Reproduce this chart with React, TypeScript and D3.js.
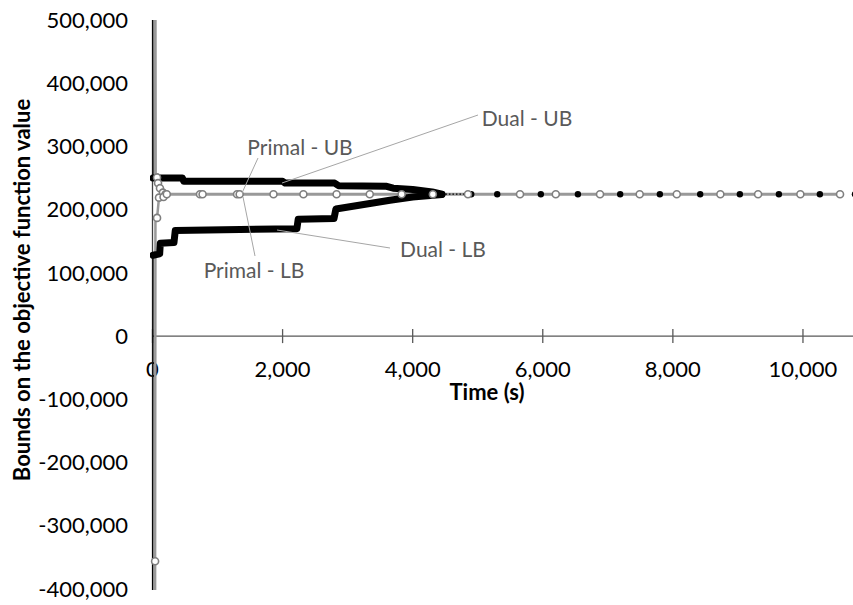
import React from 'react';
import * as d3 from 'd3';

const W = 853;
const H = 605;

const xTicks = [0, 2000, 4000, 6000, 8000, 10000];
const yTicks = [-400000, -300000, -200000, -100000, 0, 100000, 200000, 300000, 400000, 500000];

// Dual - UB (black, dense markers)
const dualUB_t = [0, 8, 460, 480, 2000, 2040, 2800, 2860, 3600, 3700, 4000, 4300, 4450];
const dualUB_v = [700000, 250000, 250000, 245000, 245000, 242000, 242000, 238000, 237000, 234000, 232000, 228000, 224500];
// Dual - LB (black, dense markers)
const dualLB_t = [0, 8, 110, 120, 330, 350, 2220, 2240, 2790, 2820, 3650, 4000, 4450];
const dualLB_v = [-700000, 128000, 130000, 147000, 148000, 167000, 170000, 185000, 186000, 201000, 215000, 220000, 224000];
// Dual converged points after 4,500 s (sparse black dots)
const dualTail_t = [4900, 5300, 5970, 6540, 7190, 7800, 8420, 9030, 9630, 10260, 10800];
const dualTail_v = [224500, 224500, 224500, 224500, 224500, 224500, 224500, 224500, 224500, 224500, 224500];

// Primal - UB (grey, open circles)
const primalUB_t = [40, 45, 70, 85, 115, 160, 200, 730, 770, 1300, 1340, 1860, 2320, 2830, 3340, 3830, 4310, 4850, 5650, 6200, 6880, 7490, 8060, 8730, 9310, 9960, 10570];
const primalUB_v = [600000, 255000, 251000, 242000, 234000, 227000, 224500, 224500, 224500, 224500, 224500, 224500, 224500, 224500, 224500, 224500, 224500, 224500, 224500, 224500, 224500, 224500, 224500, 224500, 224500, 224500, 224500];
// Primal - LB (grey, open circles)
const primalLB_t = [40, 40, 45, 70, 100, 170, 220];
const primalLB_v = [-420000, -356000, 180000, 187000, 219000, 220000, 224500];

const labels = [
  { text: 'Primal - UB', tx: 300, ty: 148, lx1: 258, ly1: 158, lx2: 242, ly2: 193 },
  { text: 'Dual - UB', tx: 527, ty: 119, lx1: 478, ly1: 115, lx2: 282, ly2: 183 },
  { text: 'Dual - LB', tx: 443, ty: 250, lx1: 390, ly1: 248, lx2: 277, ly2: 230 },
  { text: 'Primal - LB', tx: 254, ty: 271, lx1: 255, ly1: 256, lx2: 243, ly2: 197 },
];

const zip = (t: number[], v: number[]) => t.map((d, i) => [d, v[i]] as [number, number]);
const locale = d3.formatLocale({ decimal: '.', thousands: ',', grouping: [3], currency: ['$', ''], minus: '-' });

export default function App() {
  const x = d3.scaleLinear().domain([0, 10800]).range([152.5, 855]);
  const y = d3.scaleLinear().domain([-400000, 500000]).range([589, 20]);
  const line = d3.line<[number, number]>().x(d => x(d[0])).y(d => y(d[1]));
  const fmt = locale.format(',');
  const font = 'Lato, "Open Sans", sans-serif';

  const dUB = zip(dualUB_t, dualUB_v);
  const dLB = zip(dualLB_t, dualLB_v);
  const dTail = zip(dualTail_t, dualTail_v);
  const pUB = zip(primalUB_t, primalUB_v);
  const pLB = zip(primalLB_t, primalLB_v);
  const markerUB = pUB.slice(2);
  const markerLB = pLB.filter((_, i) => i !== 0 && i !== 2);
  const tailLine: [number, number][] = [dUB[dUB.length - 1], dTail[0]];

  return (
    <svg width={W} height={H} style={{ position: 'absolute', left: 0, top: 0, background: '#fff' }} fontFamily={font}>
      <defs>
        <clipPath id="plot">
          <rect x={150} y={20} width={710} height={570} />
        </clipPath>
      </defs>
      {/* y tick labels */}
      {yTicks.map(t => (
        <text key={t} x={128} y={y(t)} dy="0.35em" textAnchor="end" fontSize={22} fill="#000">{fmt(t)}</text>
      ))}
      {/* x axis */}
      <line x1={x(0)} x2={W} y1={y(0)} y2={y(0)} stroke="#595959" strokeWidth={1.3} />
      {xTicks.map(t => (
        <g key={t}>
          <line x1={x(t)} x2={x(t)} y1={y(0) - 7} y2={y(0) + 7} stroke="#595959" strokeWidth={1.3} />
          <text x={x(t)} y={y(0) + 33} dy="0.35em" textAnchor="middle" fontSize={22} fill="#000">{fmt(t)}</text>
        </g>
      ))}
      {/* y axis line */}
      <line x1={x(0)} x2={x(0)} y1={20} y2={590} stroke="#404040" strokeWidth={1.3} />
      <g clipPath="url(#plot)">
        {/* primal lines */}
        <path d={line(pLB) || ''} fill="none" stroke="#999" strokeWidth={2.5} />
        <path d={line(pUB) || ''} fill="none" stroke="#999" strokeWidth={3} />
        {/* dual lines */}
        <path d={line(dUB) || ''} fill="none" stroke="#000" strokeWidth={1.3} />
        <path d={line(dLB) || ''} fill="none" stroke="#000" strokeWidth={1.3} />
        <path d={line(dUB.slice(1)) || ''} fill="none" stroke="#000" strokeWidth={7} strokeLinejoin="round" strokeLinecap="round" />
        <path d={line(dLB.slice(1)) || ''} fill="none" stroke="#000" strokeWidth={7} strokeLinejoin="round" strokeLinecap="round" />
        <path d={line(tailLine) || ''} fill="none" stroke="#000" strokeWidth={1.2} strokeDasharray="1.5 2" />
        {dTail.map((d, i) => (
          <circle key={'dt' + i} cx={x(d[0])} cy={y(d[1])} r={3.2} fill="#000" />
        ))}
        {markerUB.map((d, i) => (
          <circle key={'pu' + i} cx={x(d[0])} cy={y(d[1])} r={3.5} fill="#fff" stroke="#7f7f7f" strokeWidth={1.6} />
        ))}
        {markerLB.map((d, i) => (
          <circle key={'pl' + i} cx={x(d[0])} cy={y(d[1])} r={3.5} fill="#fff" stroke="#7f7f7f" strokeWidth={1.6} />
        ))}
      </g>
      {/* callouts */}
      {labels.map(l => (
        <g key={l.text}>
          <line x1={l.lx1} y1={l.ly1} x2={l.lx2} y2={l.ly2} stroke="#a6a6a6" strokeWidth={1} />
          <text x={l.tx} y={l.ty} dy="0.35em" textAnchor="middle" fontSize={21} fill="#595959">{l.text}</text>
        </g>
      ))}
      {/* axis titles */}
      <text x={487} y={392} dy="0.35em" textAnchor="middle" fontSize={22} fontWeight="bold" fill="#000">Time (s)</text>
      <text transform={`translate(22,290) rotate(-90)`} dy="0.35em" textAnchor="middle" fontSize={22} fontWeight="bold" fill="#000">Bounds on the objective function value</text>
    </svg>
  );
}
